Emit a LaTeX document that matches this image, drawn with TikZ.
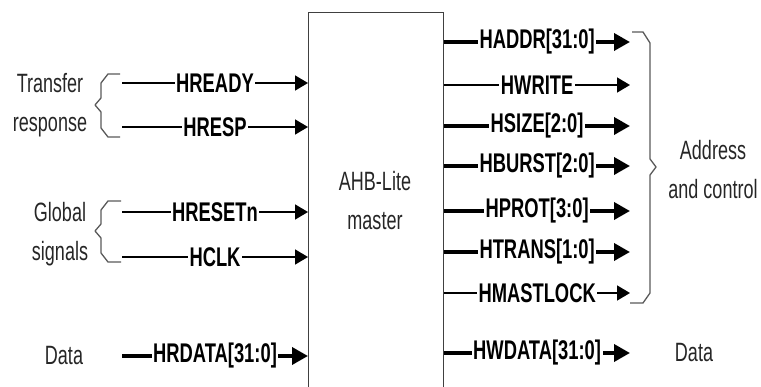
\documentclass[tikz,border=0pt]{standalone}
\usepackage{fontspec}
\usetikzlibrary{arrows.meta}
\newfontfamily\nf[FakeStretch=0.68]{Liberation Sans}
\begin{document}
\begin{tikzpicture}[x=1pt,y=-1pt,
  sig/.style={font=\nf\bfseries\fontsize{27}{27}\selectfont, fill=white, inner xsep=1.5pt, inner ysep=0pt, text=black},
  lbl/.style={font=\nf\fontsize{26.5}{39}\selectfont, align=center, text=black!85, inner sep=0pt},
  thinsig/.style={line width=1.6pt, black, -{Triangle[length=13pt,width=15pt]}},
  thicksig/.style={line width=3.6pt, black, -{Triangle[length=16pt,width=17pt]}},
  brace/.style={line width=1.3pt, gray!70!black, line join=round},
  box/.style={draw=black!75, line width=1.3pt, fill=none}]
\useasboundingbox (0,0) rectangle (761,387);
\clip (0,0) rectangle (761,387);
% master box
\node[box, anchor=north west, minimum width=135pt, minimum height=378pt, inner sep=0pt] (m) at (308,12) {};
\node[lbl] (mlbl) at (375,201) {AHB-Lite\\master};
% left start points
\coordinate (hready) at (122,83);
\coordinate (hresp) at (122,127);
\coordinate (hreset) at (122,212);
\coordinate (hclk) at (122,257);
\coordinate (hrdata) at (122,356);
\draw[thinsig] (hready) -- (hready -| m.west) node[sig, midway] (lhready) {HREADY};
\draw[thinsig] (hresp) -- (hresp -| m.west) node[sig, midway] (lhresp) {HRESP};
\draw[thinsig] (hreset) -- (hreset -| m.west) node[sig, midway] (lhreset) {HRESETn};
\draw[thinsig] (hclk) -- (hclk -| m.west) node[sig, midway] (lhclk) {HCLK};
\draw[thicksig] (hrdata) -- (hrdata -| m.west) node[sig, midway] (lhrdata) {HRDATA[31:0]};
% right end points
\coordinate (haddr) at (630,42);
\coordinate (hwrite) at (630,85);
\coordinate (hsize) at (630,126);
\coordinate (hburst) at (630,166);
\coordinate (hprot) at (630,211);
\coordinate (htrans) at (630,252);
\coordinate (hlock) at (630,293);
\coordinate (hwdata) at (630,353);
\draw[thicksig] (haddr -| m.east) -- (haddr) node[sig, midway] (lhaddr) {HADDR[31:0]};
\draw[thinsig] (hwrite -| m.east) -- (hwrite) node[sig, midway] (lhwrite) {HWRITE};
\draw[thicksig] (hsize -| m.east) -- (hsize) node[sig, midway] (lhsize) {HSIZE[2:0]};
\draw[thicksig] (hburst -| m.east) -- (hburst) node[sig, midway] (lhburst) {HBURST[2:0]};
\draw[thicksig] (hprot -| m.east) -- (hprot) node[sig, midway] (lhprot) {HPROT[3:0]};
\draw[thicksig] (htrans -| m.east) -- (htrans) node[sig, midway] (lhtrans) {HTRANS[1:0]};
\draw[thinsig] (hlock -| m.east) -- (hlock) node[sig, midway] (lhlock) {HMASTLOCK};
\draw[thicksig] (hwdata -| m.east) -- (hwdata) node[sig, midway] (lhwdata) {HWDATA[31:0]};
% braces
\draw[brace] (120,74) -- (108,74) -- (101,83) -- (101,98) -- (95,105) -- (101,112) -- (101,128) -- (108,137) -- (120,137);
\draw[brace] (121,201) -- (108,201) -- (101,210) -- (101,224) -- (95,231) -- (101,238) -- (101,253) -- (108,262) -- (121,262);
\draw[brace] (632,32) -- (643,32) -- (650,43) -- (650,159) -- (656,167) -- (650,175) -- (650,293) -- (643,303) -- (630,303);
% group labels
\node[lbl] (ltr) at (50,105) {Transfer\\response};
\node[lbl] (lgl) at (60,234) {Global\\signals};
\node[lbl] (ldl) at (64,356) {Data};
\node[lbl] (lac) at (713,170) {Address\\and control};
\node[lbl] (ldr) at (694,353) {Data};
\end{tikzpicture}
\end{document}
